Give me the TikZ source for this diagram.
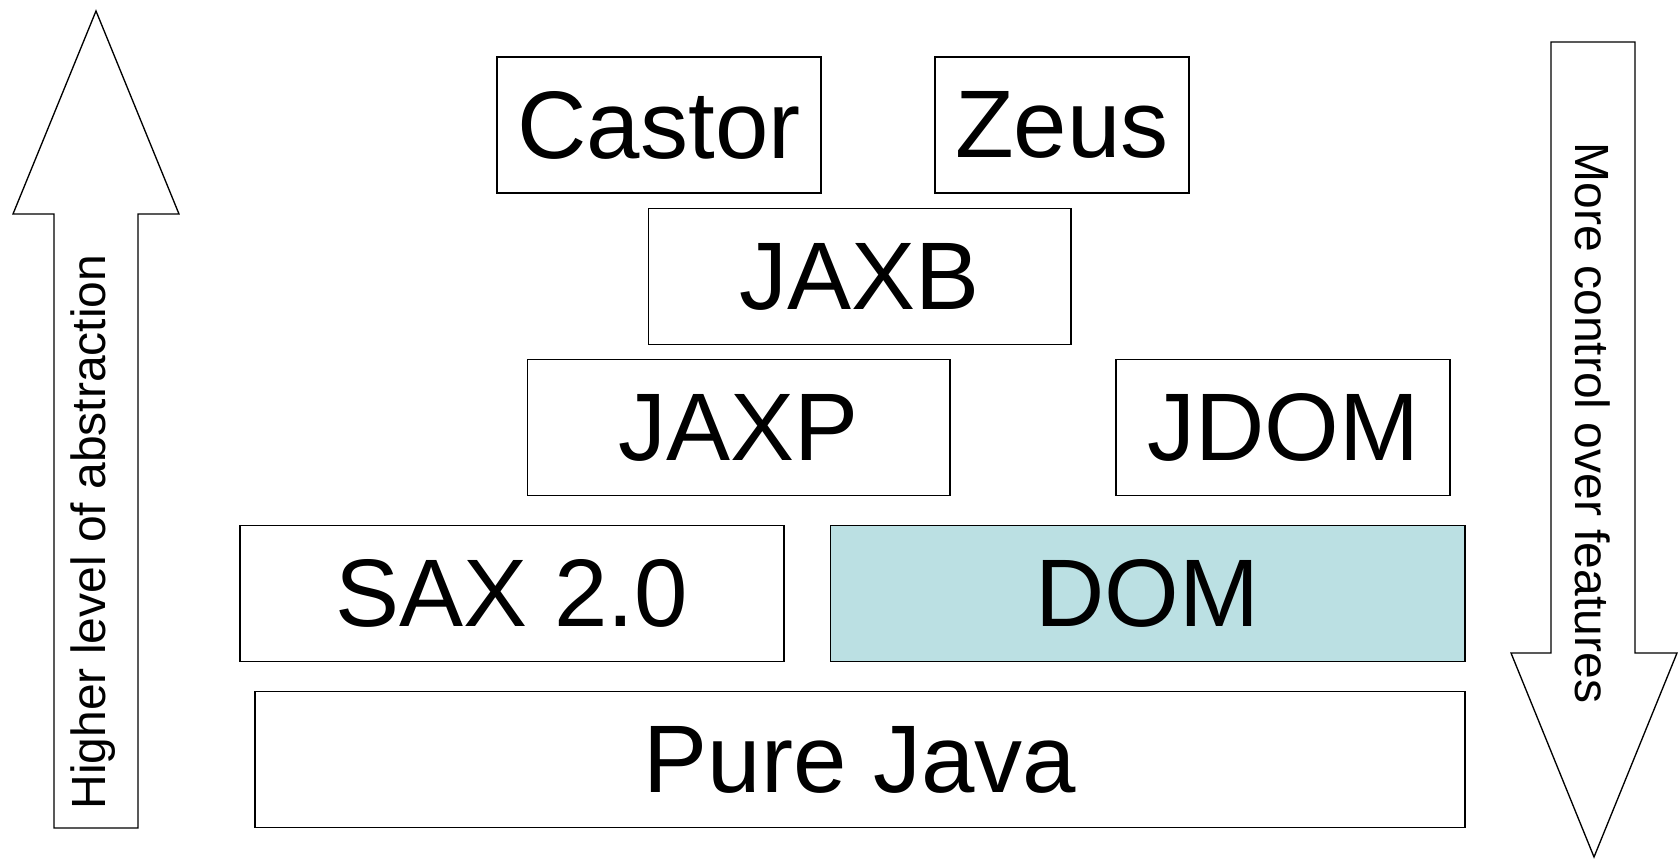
\documentclass[tikz,border=0pt]{standalone}
\usepackage{fontspec}
\setmainfont{Liberation Sans}

\definecolor{domfill}{RGB}{187,224,227}

\tikzset{every picture/.style={line width=0.75pt}}
\tikzset{
  layerbox/.style={draw, rectangle, line width=1pt, inner sep=0pt, minimum height=102pt,
    font=\fontsize{72}{86}\selectfont},
  sidetext/.style={inner sep=0pt, font=\fontsize{36}{43}\selectfont}
}

\begin{document}
\begin{tikzpicture}[x=0.75pt,y=0.75pt,yscale=-1,xscale=1]
		\path (0,0) rectangle (1680,860); %canvas

		%Block arrow pointing up
		\draw [line width=1pt] (96,11) -- (179,214) -- (138,214) -- (138,828) -- (54,828) -- (54,214) -- (13,214) -- cycle ;
		%Block arrow pointing down
		\draw [line width=1pt] (1551,42) -- (1635,42) -- (1635,653) -- (1677,653) -- (1594,857) -- (1511,653) -- (1551,653) -- cycle ;

		% Side labels
		\node [sidetext, rotate=90] (abstr) at (93,532) {Higher level of abstraction};
		\node [sidetext, rotate=-90] (ctrl) at (1593,423) {More control over features};

		% Layers
		\node [layerbox, minimum width=243pt] (castor) at (659,125) {Castor};
		\node [layerbox, minimum width=190.5pt] (zeus) at (1062,125) {Zeus};
		\node [layerbox, minimum width=317pt] (jaxb) at (859.5,276.5) {JAXB};
		\node [layerbox, minimum width=317pt] (jaxp) at (738.5,427.5) {JAXP};
		\node [layerbox, minimum width=250.5pt] (jdom) at (1283,427.5) {JDOM};
		\node [layerbox, minimum width=408pt] (sax) at (512,593.5) {SAX 2.0};
		\node [layerbox, minimum width=476pt, fill=domfill] (dom) at (1147.5,593.5) {DOM};
		\node [layerbox, minimum width=907.5pt] (purejava) at (860,759.5) {Pure Java};

\end{tikzpicture}
\end{document}
